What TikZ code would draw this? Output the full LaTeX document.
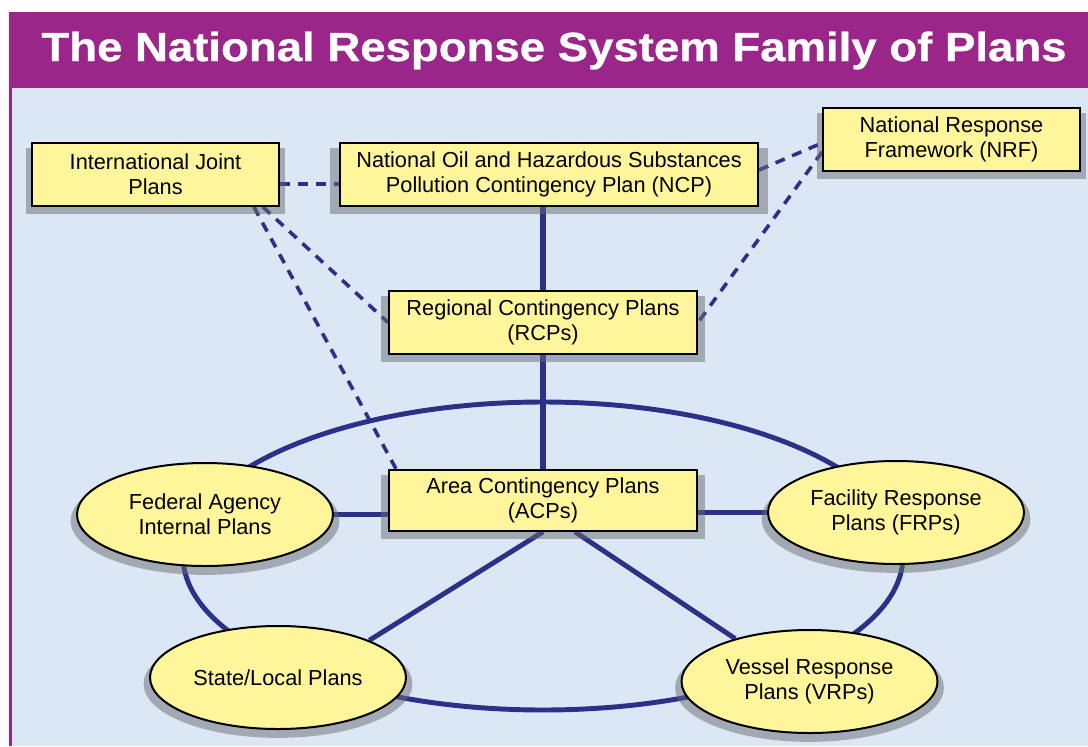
\documentclass[tikz,border=0pt]{standalone}
\usepackage{fontspec}
\setmainfont{Liberation Sans}
\newfontfamily\titlefont{Liberation Sans}[FakeStretch=1.12, FakeBold=0.7]
\usepackage{tikz}
\usetikzlibrary{positioning,shapes.geometric,shadows}
\definecolor{nrsblue}{RGB}{220,231,245}
\definecolor{nrspurple}{RGB}{155,38,138}
\definecolor{nrsyellow}{RGB}{255,246,155}
\definecolor{nrsnavy}{RGB}{43,48,137}
\definecolor{nrsshadow}{RGB}{106,108,112}
\pgfdeclarelayer{back}
\pgfdeclarelayer{lines}
\pgfsetlayers{back,lines,main}

\begin{document}
\begin{tikzpicture}[x=0.75pt,y=-0.75pt,inner sep=0pt]
\tikzstyle{plan}=[rectangle, draw=black, line width=1.5pt, fill=nrsyellow, align=center, minimum height=47pt, font=\fontsize{16.3}{18.75}\selectfont, general shadow={fill=nrsshadow, fill opacity=0.5, shadow scale=1.05, shadow yshift=-4.5pt}]
\tikzstyle{planell}=[plan, ellipse, minimum width=192pt, minimum height=77.25pt]
\tikzstyle{solid link}=[draw=nrsnavy, line width=4.3pt]
\tikzstyle{diag link}=[draw=nrsnavy, line width=3.7pt]
\tikzstyle{dash link}=[draw=nrsnavy, line width=2.7pt, dash pattern=on 7.5pt off 6pt]
\useasboundingbox (0,0) rectangle (1088,746);
\begin{pgfonlayer}{back}
\fill[white] (0,0) rectangle (1088,746);
\fill[nrspurple] (9,12) rectangle (1088,746);
\fill[nrsblue] (12,88) rectangle (1088,746);
\end{pgfonlayer}
\node[text=white, anchor=base, font=\titlefont\fontsize{30.5}{36}\selectfont\bfseries] (title) at (554,61) {The National Response System Family of Plans};

\node[plan, minimum width=185pt] (ijp) at (155.5,174.5) {International Joint\\Plans};
\node[plan, minimum width=313.5pt] (ncp) at (549,174.5) {National Oil and Hazardous Substances\\Pollution Contingency Plan (NCP)};
\node[plan, minimum width=192.75pt] (nrf) at (951.5,139.5) {National Response\\Framework (NRF)};
\node[plan, minimum width=231pt] (rcp) at (543,322.5) {Regional Contingency Plans\\(RCPs)};
\node[plan, minimum width=231pt, minimum height=45.75pt] (acp) [below=85.5pt of rcp] {Area Contingency Plans\\(ACPs)};
\node[planell] (fa) at (205,514.5) {Federal Agency\\Internal Plans};
\node[planell] (sl) at (278,677.5) {State/Local Plans};
\node[planell] (frp) at (896,512.5) {Facility Response\\Plans (FRPs)};
\node[planell] (vrp) at (809.5,681.5) {Vessel Response\\Plans (VRPs)};

\begin{pgfonlayer}{lines}
\coordinate (ring) at (543,556);
\draw[diag link] (ring) ellipse [x radius=360, y radius=154];
\path (rcp) edge[solid link] (rcp |- ncp.south) edge[solid link] (acp);
\path (fa.east) edge[solid link] (fa.east -| acp.west);
\path (frp.west) edge[solid link] (frp.west -| acp.east);
\path (acp.south) edge[diag link] (sl.north east);
\path ([xshift=24pt]acp.south) edge[diag link] (vrp.150);
\path ([yshift=-7pt]ijp.east) edge[dash link] ([yshift=-7pt]ncp.west);
\path ([yshift=3.4pt]ncp.east) edge[dash link] ([yshift=-2.6pt]nrf.west);
\path ([yshift=-9.4pt]nrf.west) edge[dash link] (rcp.east);
\path ([xshift=-12.75pt]ijp.south east) edge[dash link] (rcp.west);
\path ([xshift=-19.5pt]ijp.south east) edge[dash link] ([xshift=6pt]acp.north west);
\end{pgfonlayer}
\end{tikzpicture}
\end{document}
